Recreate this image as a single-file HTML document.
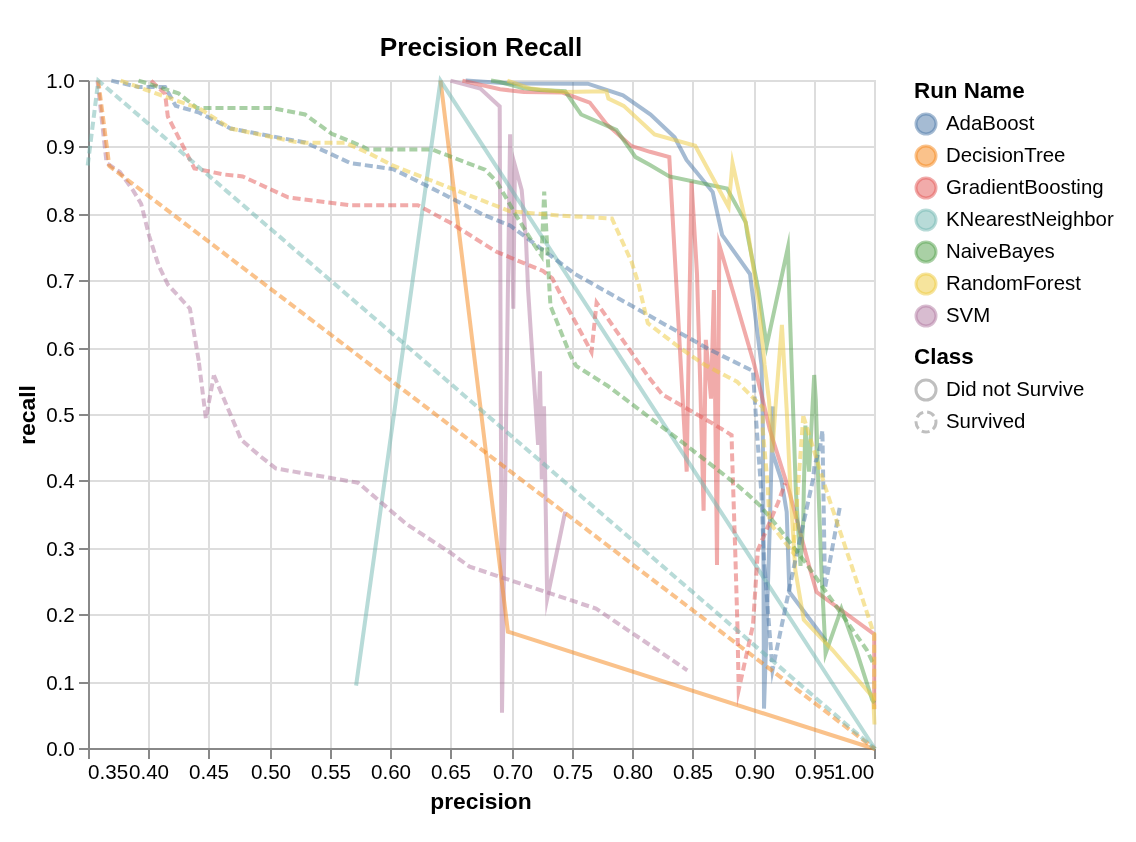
<!DOCTYPE html>
<html lang="en"><head><meta charset="utf-8"><title>Precision Recall</title>
<style>html,body{margin:0;padding:0;background:#fff}svg{display:block}text{font-family:"Liberation Sans",sans-serif;fill:#000}</style></head><body>
<svg width="1136" height="842" viewBox="0 0 568 421">
<rect width="568" height="421" fill="#fff"/>
<g stroke="#ddd" stroke-width="1">
<line x1="44.5" y1="40" x2="44.5" y2="374"/>
<line x1="74.5" y1="40" x2="74.5" y2="374"/>
<line x1="104.5" y1="40" x2="104.5" y2="374"/>
<line x1="135.5" y1="40" x2="135.5" y2="374"/>
<line x1="165.5" y1="40" x2="165.5" y2="374"/>
<line x1="195.5" y1="40" x2="195.5" y2="374"/>
<line x1="225.5" y1="40" x2="225.5" y2="374"/>
<line x1="256.5" y1="40" x2="256.5" y2="374"/>
<line x1="286.5" y1="40" x2="286.5" y2="374"/>
<line x1="316.5" y1="40" x2="316.5" y2="374"/>
<line x1="346.5" y1="40" x2="346.5" y2="374"/>
<line x1="377.5" y1="40" x2="377.5" y2="374"/>
<line x1="407.5" y1="40" x2="407.5" y2="374"/>
<line x1="437.5" y1="40" x2="437.5" y2="374"/>
<line x1="44" y1="374.5" x2="437" y2="374.5"/>
<line x1="44" y1="341.5" x2="437" y2="341.5"/>
<line x1="44" y1="307.5" x2="437" y2="307.5"/>
<line x1="44" y1="274.5" x2="437" y2="274.5"/>
<line x1="44" y1="240.5" x2="437" y2="240.5"/>
<line x1="44" y1="207.5" x2="437" y2="207.5"/>
<line x1="44" y1="174.5" x2="437" y2="174.5"/>
<line x1="44" y1="140.5" x2="437" y2="140.5"/>
<line x1="44" y1="107.5" x2="437" y2="107.5"/>
<line x1="44" y1="73.5" x2="437" y2="73.5"/>
<line x1="44" y1="40.5" x2="437" y2="40.5"/>
</g>
<g stroke="#888" stroke-width="1">
<line x1="44.5" y1="374.5" x2="44.5" y2="379.5"/>
<line x1="74.5" y1="374.5" x2="74.5" y2="379.5"/>
<line x1="104.5" y1="374.5" x2="104.5" y2="379.5"/>
<line x1="135.5" y1="374.5" x2="135.5" y2="379.5"/>
<line x1="165.5" y1="374.5" x2="165.5" y2="379.5"/>
<line x1="195.5" y1="374.5" x2="195.5" y2="379.5"/>
<line x1="225.5" y1="374.5" x2="225.5" y2="379.5"/>
<line x1="256.5" y1="374.5" x2="256.5" y2="379.5"/>
<line x1="286.5" y1="374.5" x2="286.5" y2="379.5"/>
<line x1="316.5" y1="374.5" x2="316.5" y2="379.5"/>
<line x1="346.5" y1="374.5" x2="346.5" y2="379.5"/>
<line x1="377.5" y1="374.5" x2="377.5" y2="379.5"/>
<line x1="407.5" y1="374.5" x2="407.5" y2="379.5"/>
<line x1="437.5" y1="374.5" x2="437.5" y2="379.5"/>
<line x1="44.5" y1="374.5" x2="437.5" y2="374.5"/>
<line x1="39.5" y1="374.5" x2="44.5" y2="374.5"/>
<line x1="39.5" y1="341.5" x2="44.5" y2="341.5"/>
<line x1="39.5" y1="307.5" x2="44.5" y2="307.5"/>
<line x1="39.5" y1="274.5" x2="44.5" y2="274.5"/>
<line x1="39.5" y1="240.5" x2="44.5" y2="240.5"/>
<line x1="39.5" y1="207.5" x2="44.5" y2="207.5"/>
<line x1="39.5" y1="174.5" x2="44.5" y2="174.5"/>
<line x1="39.5" y1="140.5" x2="44.5" y2="140.5"/>
<line x1="39.5" y1="107.5" x2="44.5" y2="107.5"/>
<line x1="39.5" y1="73.5" x2="44.5" y2="73.5"/>
<line x1="39.5" y1="40.5" x2="44.5" y2="40.5"/>
<line x1="44.5" y1="40.5" x2="44.5" y2="374.5"/>
</g>
<g font-size="10.3">
<text x="44" y="389.7" text-anchor="start">0.35</text>
<text x="74.5" y="389.7" text-anchor="middle">0.40</text>
<text x="104.5" y="389.7" text-anchor="middle">0.45</text>
<text x="135.5" y="389.7" text-anchor="middle">0.50</text>
<text x="165.5" y="389.7" text-anchor="middle">0.55</text>
<text x="195.5" y="389.7" text-anchor="middle">0.60</text>
<text x="225.5" y="389.7" text-anchor="middle">0.65</text>
<text x="256.5" y="389.7" text-anchor="middle">0.70</text>
<text x="286.5" y="389.7" text-anchor="middle">0.75</text>
<text x="316.5" y="389.7" text-anchor="middle">0.80</text>
<text x="346.5" y="389.7" text-anchor="middle">0.85</text>
<text x="377.5" y="389.7" text-anchor="middle">0.90</text>
<text x="407.5" y="389.7" text-anchor="middle">0.95</text>
<text x="437.1" y="389.7" text-anchor="end">1.00</text>
<text x="37.4" y="378.2" text-anchor="end">0.0</text>
<text x="37.4" y="345.2" text-anchor="end">0.1</text>
<text x="37.4" y="311.2" text-anchor="end">0.2</text>
<text x="37.4" y="278.2" text-anchor="end">0.3</text>
<text x="37.4" y="244.2" text-anchor="end">0.4</text>
<text x="37.4" y="211.2" text-anchor="end">0.5</text>
<text x="37.4" y="178.2" text-anchor="end">0.6</text>
<text x="37.4" y="144.2" text-anchor="end">0.7</text>
<text x="37.4" y="111.2" text-anchor="end">0.8</text>
<text x="37.4" y="77.2" text-anchor="end">0.9</text>
<text x="37.4" y="44.2" text-anchor="end">1.0</text>
</g>
<text x="240.5" y="404.5" text-anchor="middle" font-size="11.4" font-weight="bold">precision</text>
<text transform="translate(17.5,207.5) rotate(-90)" text-anchor="middle" font-size="11.4" font-weight="bold">recall</text>
<text x="240.5" y="28" text-anchor="middle" font-size="13.1" font-weight="bold">Precision Recall</text>
<g fill="none" stroke-width="2" stroke-opacity="0.5" stroke-linejoin="miter" stroke-miterlimit="10">
<path d="M225.20,40.30L240.15,44.30L249.85,53.25L251.00,356.35L255.05,67.10L256.65,154.35L257.45,82.65L260.85,95.00L263.00,120.00L264.05,145.00L269.05,222.40L270.00,185.65L270.90,239.70L272.00,203.15L273.60,299.25L282.60,255.80" stroke="#b279a2"/>
<path d="M232.85,40.30L255.00,41.75L293.90,41.85L311.50,47.65L325.30,57.25L337.30,68.60L343.25,80.00L356.35,96.05L361.05,117.40L375.00,137.00L378.65,166.00L380.75,182.50L381.40,210.00L381.65,260.00L382.00,354.30L385.00,260.00L386.40,203.20L386.25,226.50L390.70,240.00L393.35,256.00L394.15,280.00L394.70,296.00L413.10,320.60" stroke="#4c78a8"/>
<path d="M220.25,40.30L253.95,315.85L437.50,374.50" stroke="#f58518"/>
<path d="M231.20,40.30L250.00,44.65L262.00,45.95L281.25,46.30L294.90,51.30L303.20,61.95L315.50,72.90L325.00,75.90L334.65,78.55L343.35,235.85L345.75,90.65L348.50,137.00L350.15,193.00L351.80,255.40L352.90,169.95L355.50,199.30L356.95,145.00L358.50,282.55L359.65,122.50L367.70,150.00L377.20,182.50L384.95,215.00L394.40,245.00L405.10,285.00L408.30,296.00L436.75,316.85L437.10,317.25L437.10,354.65" stroke="#e45756"/>
<path d="M178.05,342.80L220.25,40.30L437.50,374.50" stroke="#72b7b2"/>
<path d="M245.50,40.30L250.00,41.00L261.30,44.00L270.00,45.00L282.60,45.65L290.55,57.25L308.20,64.90L317.80,78.55L325.00,82.55L334.65,88.20L363.50,94.25L372.85,111.15L373.75,117.50L379.20,145.00L383.35,172.80L393.95,123.75L395.25,166.00L396.55,205.00L397.90,245.00L400.25,283.00L401.65,260.00L401.90,245.00L402.70,212.80L404.55,235.80L407.10,187.50L407.90,200.00L409.25,245.00L410.70,285.00L412.80,326.80L420.70,304.35L428.10,325.00L436.10,349.90L437.25,351.50" stroke="#54a24b"/>
<path d="M253.65,40.30L265.30,44.30L281.90,45.95L303.20,45.65L304.20,49.30L311.85,52.95L327.30,67.25L347.60,72.90L364.30,103.45L366.25,81.50L374.20,117.50L379.10,150.00L382.30,182.50L384.50,200.00L386.15,226.20L388.00,200.00L390.95,162.40L393.35,205.00L395.20,245.00L397.65,285.00L401.90,309.90L416.30,325.00L436.60,348.85L437.25,362.25" stroke="#eeca3b"/>
<path d="M48.75,40.30L53.30,81.50L59.95,86.00L66.60,95.30L70.60,101.95L74.55,117.90L79.25,132.55L83.95,142.30L94.95,154.30L99.30,180.00L99.47,181.37M99.47,181.37L102.95,209.25L106.95,187.65M106.95,187.65L120.60,219.90L130.00,228.00L138.00,234.25L179.00,241.35L203.00,261.85L225.00,276.25L234.80,283.35L298.00,304.30L343.65,335.15" stroke="#b279a2" stroke-dasharray="4,2"/>
<path d="M55.65,40.30L69.25,43.50L82.55,43.50L87.85,52.95L99.20,56.15L115.30,64.25L152.55,71.25L165.85,77.20L175.15,81.55L196.60,84.55L215.00,93.65L241.50,107.25L255.00,112.75L263.50,119.00L287.50,137.00L355.00,174.90L376.50,185.50L376.95,193.10L378.05,210.00L380.75,247.50L382.00,280.00L382.40,285.15M382.40,285.15L386.25,335.00L393.50,300.00L397.10,282.75L406.45,240.00L407.25,233.10L410.15,223.00L411.20,215.20L412.50,294.00L420.05,252.80" stroke="#4c78a8" stroke-dasharray="4,2"/>
<path d="M49.10,40.30L54.65,83.00L437.50,374.50" stroke="#f58518" stroke-dasharray="4,2"/>
<path d="M75.55,40.30L82.55,46.95L83.90,58.25L97.20,84.20L111.65,87.20L121.30,88.20L144.05,98.70L175.00,102.60L208.90,102.60L225.00,111.30L248.25,125.90L271.50,135.50L276.15,139.20L280.95,148.50L295.75,176.00L298.30,151.30L323.90,188.00L331.20,197.30L355.00,210.95L365.80,217.55L366.05,227.80L366.70,247.50L367.60,275.00L368.70,312.50L368.71,313.01M368.71,313.01L369.35,345.00L376.50,312.50L378.95,275.00L389.00,251.40L392.55,241.60" stroke="#e45756" stroke-dasharray="4,2"/>
<path d="M43.85,82.75L49.15,40.30L437.50,374.50" stroke="#72b7b2" stroke-dasharray="4,2"/>
<path d="M69.25,40.30L89.20,46.65L98.50,53.95L135.60,53.95L152.55,57.25L165.85,66.90L181.35,73.25L184.00,74.70L215.90,74.70L242.50,84.85L248.50,91.00L258.20,107.95L266.70,121.80L270.80,128.00L270.81,127.72M270.81,127.72L272.10,95.75L274.75,145.00L275.25,153.00L285.40,178.10L288.10,182.95L303.95,193.00L340.00,220.25L355.00,231.90L368.50,242.50L374.30,247.50L380.00,252.80L390.00,264.75L403.00,281.65L433.40,325.00L436.10,330.70L437.25,332.50" stroke="#54a24b" stroke-dasharray="4,2"/>
<path d="M60.30,40.30L73.25,45.00L82.55,48.30L99.85,54.30L115.30,64.25L147.25,70.90L152.50,71.35L172.50,71.35L185.00,76.90L196.60,82.85L215.00,90.00L254.90,105.60L280.00,107.80L305.95,109.25L315.90,131.20L319.25,142.00L323.90,161.60L340.00,173.95L352.50,182.50L368.50,190.85L381.40,203.75L381.40,215.00L383.85,242.50L384.50,257.65L385.00,261.50L396.60,276.50L401.65,208.00M401.65,208.00L413.10,245.00L426.50,285.00L436.25,314.70L437.10,316.75L437.10,354.50" stroke="#eeca3b" stroke-dasharray="4,2"/>
</g>
<text x="457" y="49" font-size="11.2" font-weight="bold">Run Name</text>
<circle cx="463" cy="62" r="5" fill="#4c78a8" stroke="#4c78a8" stroke-width="1.5" fill-opacity="0.5" stroke-opacity="0.5"/>
<text x="473" y="65" font-size="10.2">AdaBoost</text>
<circle cx="463" cy="78" r="5" fill="#f58518" stroke="#f58518" stroke-width="1.5" fill-opacity="0.5" stroke-opacity="0.5"/>
<text x="473" y="81" font-size="10.2">DecisionTree</text>
<circle cx="463" cy="94" r="5" fill="#e45756" stroke="#e45756" stroke-width="1.5" fill-opacity="0.5" stroke-opacity="0.5"/>
<text x="473" y="97" font-size="10.2">GradientBoosting</text>
<circle cx="463" cy="110" r="5" fill="#72b7b2" stroke="#72b7b2" stroke-width="1.5" fill-opacity="0.5" stroke-opacity="0.5"/>
<text x="473" y="113" font-size="10.2">KNearestNeighbor</text>
<circle cx="463" cy="126" r="5" fill="#54a24b" stroke="#54a24b" stroke-width="1.5" fill-opacity="0.5" stroke-opacity="0.5"/>
<text x="473" y="129" font-size="10.2">NaiveBayes</text>
<circle cx="463" cy="142" r="5" fill="#eeca3b" stroke="#eeca3b" stroke-width="1.5" fill-opacity="0.5" stroke-opacity="0.5"/>
<text x="473" y="145" font-size="10.2">RandomForest</text>
<circle cx="463" cy="158" r="5" fill="#b279a2" stroke="#b279a2" stroke-width="1.5" fill-opacity="0.5" stroke-opacity="0.5"/>
<text x="473" y="161" font-size="10.2">SVM</text>
<text x="457" y="182" font-size="11.2" font-weight="bold">Class</text>
<circle cx="463" cy="195" r="5" fill="none" stroke="#000" stroke-width="1.5" opacity="0.25"/>
<text x="473" y="198" font-size="10.2">Did not Survive</text>
<circle cx="463" cy="211" r="5" fill="none" stroke="#000" stroke-width="1.5" opacity="0.25" stroke-dasharray="4,2"/>
<text x="473" y="214" font-size="10.2">Survived</text>
</svg></body></html>
